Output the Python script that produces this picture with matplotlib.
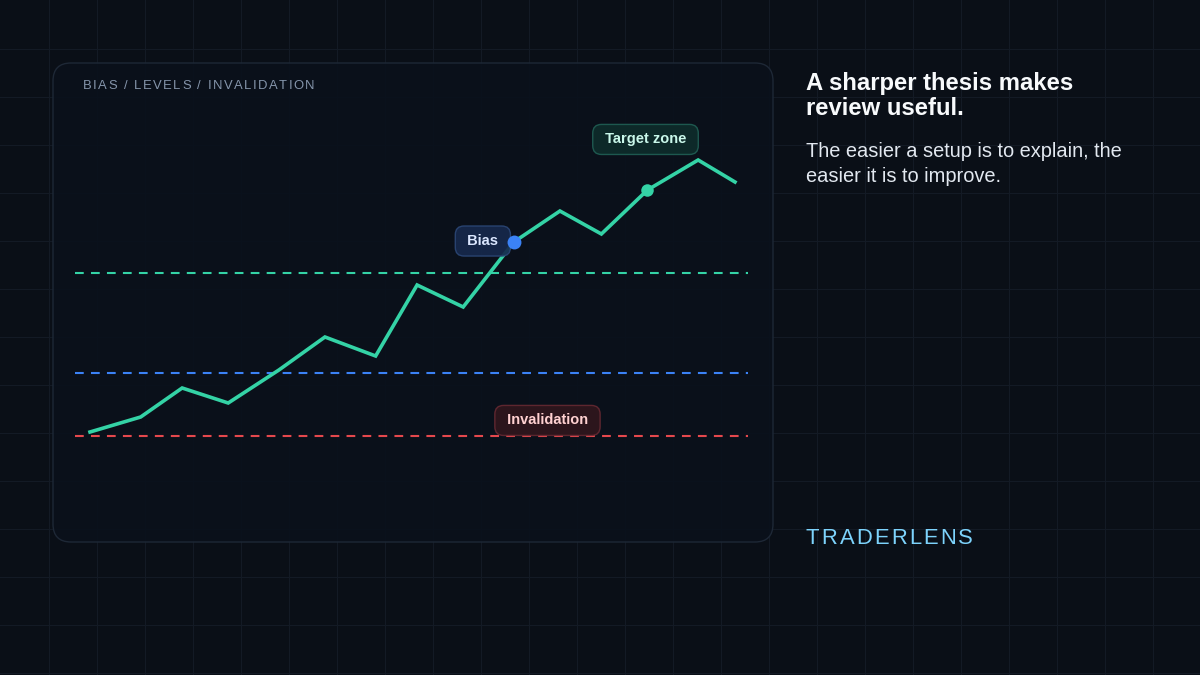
import matplotlib
matplotlib.use("Agg")
import matplotlib.pyplot as plt
from matplotlib.patches import FancyBboxPatch

plt.rcParams["font.family"] = ["Liberation Sans", "DejaVu Sans"]
plt.rcParams["lines.scale_dashes"] = False

# price path (session index vs price)
session = [0, 1.1, 2.0, 3.0, 4.1, 5.1, 6.2, 7.1, 8.1, 9.2, 10.2, 11.1, 12.1, 13.2, 14.0]
price = [106.8, 108.3, 111.2, 109.7, 113.0, 116.3, 114.4, 121.5, 119.3,
         125.8, 128.9, 126.6, 131.0, 134.0, 131.8]
bias_idx = 9
target_idx = 12

# horizontal levels
target_level = 122.7
bias_level = 112.7
invalidation_level = 106.4
level_span = (-0.33, 14.28)
invalidation_label_x = 9.93

# colours
BG = "#0a0f17"
GRID = "#131a25"
PANEL = "#0a111b"
PANEL_EDGE = "#1e2836"
TEAL = "#34d3a6"
BLUE = "#3b82f6"
RED = "#e5484d"

W, H = 1200, 675
fig = plt.figure(figsize=(12, 6.75), dpi=100, facecolor=BG)

# background grid + card
bg = fig.add_axes([0, 0, 1, 1])
bg.set_xlim(0, W)
bg.set_ylim(H, 0)
bg.axis("off")
bg.set_facecolor(BG)
for gx in range(48, W, 48):
    bg.axvline(gx + 0.5, color=GRID, lw=0.75, zorder=0)
for gy in range(48, H, 48):
    bg.axhline(gy + 0.5, color=GRID, lw=0.75, zorder=0)
bg.add_patch(FancyBboxPatch((53, 63), 720, 479, boxstyle="round,pad=0,rounding_size=18",
                            facecolor=PANEL, alpha=0.9, edgecolor="none", zorder=1))
bg.add_patch(FancyBboxPatch((53, 63), 720, 479, boxstyle="round,pad=0,rounding_size=18",
                            facecolor="none", edgecolor=PANEL_EDGE, lw=1, zorder=2))

# chart axes sitting on the card
ax = fig.add_axes([53 / W, (H - 542) / H, 720 / W, 479 / H])
ax.set_xlim(-0.803, 14.825)
ax.set_ylim(95.8, 143.7)
ax.axis("off")
ax.patch.set_alpha(0)

dash = (0, (6.3, 5.2))
ax.plot(level_span, [target_level] * 2, color=TEAL, lw=1.5, linestyle=dash, zorder=2)
ax.plot(level_span, [bias_level] * 2, color=BLUE, lw=1.5, linestyle=dash, zorder=2)
ax.plot(level_span, [invalidation_level] * 2, color=RED, lw=1.5, linestyle=dash, zorder=2)

ax.plot(session, price, color=TEAL, lw=2.6, solid_joinstyle="miter", zorder=3)

label_kw = dict(textcoords="offset points", ha="center", va="center",
                fontsize=10.5, fontweight="bold", zorder=5)
ax.annotate(" Bias ", xy=(session[bias_idx], price[bias_idx]), xytext=(-22.3, 0.7),
            color="#dbe7ff",
            bbox=dict(boxstyle="round,pad=0.55,rounding_size=0.6", facecolor="#16294c",
                      edgecolor="#2b4675", lw=1, alpha=0.92), **label_kw)
ax.annotate(" Target zone ", xy=(session[target_idx], price[target_idx]), xytext=(-1.4, 36.4),
            color="#c9f7ea",
            bbox=dict(boxstyle="round,pad=0.55,rounding_size=0.6", facecolor="#0e2b2a",
                      edgecolor="#1f5c52", lw=1, alpha=0.95), **label_kw)
ax.annotate(" Invalidation ", xy=(invalidation_label_x, invalidation_level), xytext=(0, 11.2),
            color="#ffd1d1",
            bbox=dict(boxstyle="round,pad=0.55,rounding_size=0.6", facecolor="#33161d",
                      edgecolor="#6a2a33", lw=1, alpha=0.85), **label_kw)

ax.plot(session[bias_idx], price[bias_idx], "o", color=BLUE, ms=10, mec="none", zorder=6)
ax.plot(session[target_idx], price[target_idx], "o", color=TEAL, ms=9, mec="none", zorder=6)


def spaced_text(x_px, y_px, s, spacing_px, **kw):
    """Draw letter-spaced text, one glyph at a time, baseline at y_px."""
    renderer = fig.canvas.get_renderer()
    x = x_px
    for ch in s:
        t = fig.text(x / W, 1 - y_px / H, ch, ha="left", va="baseline", **kw)
        x += t.get_window_extent(renderer).width + spacing_px


spaced_text(83, 89, "BIAS / LEVELS / INVALIDATION", 1.5, fontsize=9.4, color="#8595ab")
spaced_text(806, 544, "TRADERLENS", 2.2, fontsize=15.8, color="#7dd3fc")

fig.text(806 / W, 1 - 90 / H, "A sharper thesis makes", fontsize=17.2, fontweight="bold",
         color="#f8fafc", va="baseline")
fig.text(806 / W, 1 - 115 / H, "review useful.", fontsize=17.2, fontweight="bold",
         color="#f8fafc", va="baseline")
fig.text(806 / W, 1 - 157 / H, "The easier a setup is to explain, the", fontsize=14.4,
         color="#e2e8f0", va="baseline")
fig.text(806 / W, 1 - 182 / H, "easier it is to improve.", fontsize=14.4,
         color="#e2e8f0", va="baseline")

fig.savefig("out.png", dpi=100, facecolor=BG)
